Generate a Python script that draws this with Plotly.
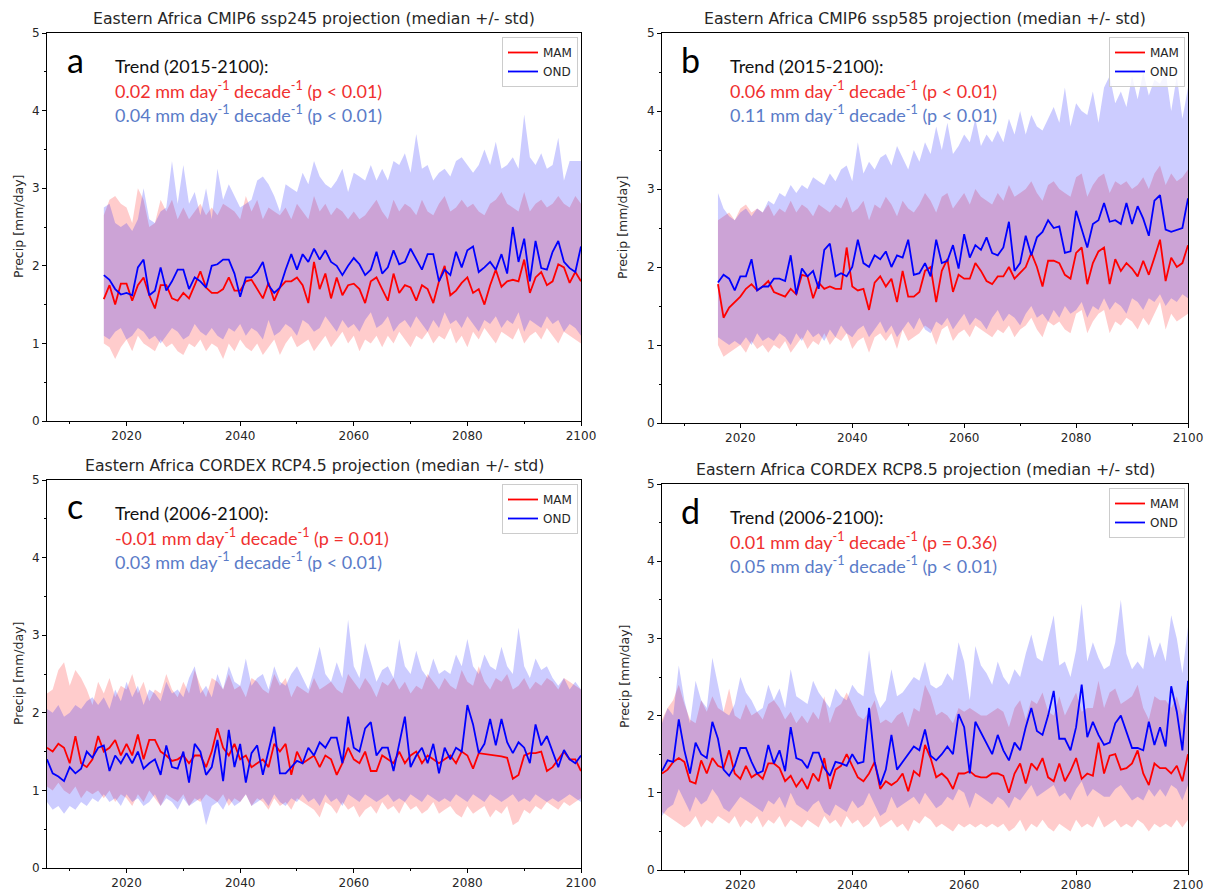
import plotly.graph_objects as go

# ---------------- data ----------------
YEARS_CMIP6 = list(range(2016, 2101))
YEARS_CORDEX = list(range(2006, 2101))

# Panel a: CMIP6 ssp245
A_MAM_MED = [1.57, 1.75, 1.50, 1.77, 1.77, 1.55, 1.75, 1.85, 1.62, 1.45,
             1.75, 1.75, 1.58, 1.55, 1.65, 1.58, 1.75, 1.93, 1.72, 1.65,
             1.65, 1.70, 1.85, 1.68, 1.68, 1.80, 1.82, 1.70, 1.58, 1.78,
             1.55, 1.72, 1.80, 1.80, 1.85, 1.75, 1.52, 2.05, 1.70, 1.90,
             1.58, 1.85, 1.62, 1.75, 1.77, 1.70, 1.52, 1.80, 1.85, 1.70,
             1.55, 1.90, 1.65, 1.75, 1.72, 1.55, 1.75, 1.70, 1.52, 1.80,
             2.00, 1.62, 1.68, 1.78, 1.85, 1.65, 1.70, 1.50, 1.75, 1.95,
             1.73, 1.80, 1.82, 1.80, 2.08, 1.65, 1.85, 1.92, 1.75, 1.80,
             2.02, 1.98, 1.78, 1.92, 1.80]
A_MAM_LO = [1.00, 0.95, 0.80, 0.95, 1.05, 0.90, 1.10, 1.00, 0.95, 0.90,
            1.05, 0.95, 1.00, 0.90, 0.85, 1.00, 0.95, 1.05, 0.90, 1.00,
            0.95, 0.80, 1.00, 0.90, 1.05, 0.95, 0.90, 1.00, 0.85, 0.95,
            1.05, 0.85, 1.00, 1.10, 0.95, 1.00, 1.05, 0.90, 1.00, 1.10,
            0.95, 1.05, 1.15, 1.00, 1.10, 0.90, 1.05, 1.00, 1.10, 0.95,
            1.10, 1.00, 1.15, 1.05, 0.95, 1.10, 1.05, 1.15, 1.00, 1.10,
            1.05, 1.20, 1.00, 1.10, 0.95, 1.15, 1.05, 1.20, 1.10, 1.00,
            1.15, 1.10, 1.05, 1.20, 1.00, 1.10, 1.15, 1.05, 1.20, 1.10,
            1.00, 1.15, 1.10, 1.05, 1.00]
A_MAM_HI = [2.65, 2.85, 2.90, 2.80, 2.75, 2.55, 3.00, 2.85, 2.50, 2.55,
            2.85, 2.70, 2.85, 2.60, 2.75, 2.60, 2.70, 2.80, 2.65, 2.75,
            2.65, 2.80, 2.75, 2.70, 2.60, 2.90, 2.70, 2.85, 2.60, 2.75,
            2.70, 2.65, 2.75, 2.60, 2.80, 2.70, 2.60, 2.90, 2.70, 2.80,
            2.65, 2.75, 2.70, 2.60, 2.70, 2.60, 2.65, 2.75, 2.85, 2.70,
            2.60, 2.85, 2.70, 2.80, 2.75, 2.65, 2.85, 2.70, 2.65, 2.80,
            2.90, 2.70, 2.75, 2.85, 2.75, 2.80, 2.70, 2.65, 2.80, 2.85,
            2.95, 2.80, 2.75, 2.70, 2.95, 2.70, 2.80, 2.85, 2.75, 2.80,
            2.90, 2.80, 2.75, 2.90, 2.80]
A_OND_MED = [1.88, 1.82, 1.70, 1.63, 1.65, 1.62, 1.98, 2.08, 1.62, 1.68,
             1.98, 1.68, 1.80, 1.95, 1.95, 1.70, 1.85, 1.80, 1.72, 2.00,
             2.02, 2.08, 2.08, 1.90, 1.60, 1.85, 1.85, 1.92, 2.05, 1.75,
             1.65, 1.72, 1.95, 2.15, 1.95, 2.15, 2.05, 2.22, 2.08, 2.20,
             2.05, 2.00, 1.88, 2.00, 2.10, 2.02, 1.88, 1.95, 2.18, 1.90,
             1.98, 2.20, 2.02, 2.05, 2.22, 2.08, 1.95, 2.15, 2.15, 1.80,
             1.95, 1.88, 2.18, 1.98, 2.20, 2.25, 1.92, 1.98, 2.05, 1.95,
             2.15, 1.90, 2.50, 2.05, 2.35, 1.80, 2.32, 1.97, 1.95, 2.18,
             2.32, 2.05, 1.97, 1.92, 2.25]
A_OND_LO = [1.10, 1.05, 1.15, 1.20, 1.05, 1.10, 1.20, 1.15, 1.05, 1.10,
            1.00, 1.10, 1.20, 1.15, 1.05, 1.10, 1.25, 1.15, 1.10, 1.20,
            1.10, 1.05, 1.20, 1.15, 1.25, 1.10, 1.20, 1.15, 1.05, 1.30,
            1.10, 1.15, 1.25, 1.20, 1.10, 1.30, 1.25, 1.15, 1.20, 1.35,
            1.25, 1.15, 1.30, 1.20, 1.25, 1.15, 1.30, 1.40, 1.20, 1.25,
            1.35, 1.15, 1.25, 1.30, 1.20, 1.35, 1.25, 1.15, 1.30, 1.20,
            1.40, 1.25, 1.30, 1.20, 1.35, 1.25, 1.15, 1.30, 1.25, 1.35,
            1.20, 1.30, 1.25, 1.40, 1.15, 1.30, 1.25, 1.20, 1.35, 1.25,
            1.30, 1.15, 1.25, 1.20, 1.10]
A_OND_HI = [2.75, 2.80, 2.55, 2.50, 2.55, 2.45, 2.60, 3.00, 2.60, 2.55,
            2.70, 2.75, 3.35, 2.80, 3.30, 2.80, 2.95, 2.65, 3.00, 2.60,
            3.25, 2.85, 3.05, 2.90, 2.75, 2.80, 2.85, 3.10, 3.15, 3.05,
            2.90, 2.70, 3.05, 3.00, 2.95, 3.20, 3.05, 3.35, 3.15, 3.05,
            3.00, 3.10, 3.25, 2.95, 3.20, 3.15, 3.10, 3.30, 3.10, 3.25,
            3.10, 3.35, 3.30, 3.45, 3.20, 3.70, 3.25, 3.30, 3.10, 3.20,
            3.25, 3.15, 3.35, 3.40, 3.30, 3.20, 3.30, 3.50, 3.30, 3.60,
            3.25, 3.30, 3.40, 3.25, 3.95, 3.40, 3.30, 3.45, 3.25, 3.30,
            3.65, 3.10, 3.35, 3.35, 3.35]

# Panel b: CMIP6 ssp585
B_MAM_MED = [1.78, 1.35, 1.48, 1.55, 1.62, 1.72, 1.78, 1.70, 1.75, 1.82,
             1.68, 1.65, 1.62, 1.72, 1.65, 1.90, 1.88, 1.60, 1.80, 1.72,
             1.75, 1.72, 1.72, 2.25, 1.75, 1.70, 1.72, 1.45, 1.80, 1.88,
             1.75, 1.85, 1.55, 1.95, 1.62, 1.62, 1.68, 1.95, 2.00, 1.55,
             1.95, 2.10, 1.68, 1.90, 1.85, 1.85, 2.05, 1.95, 1.82, 1.78,
             1.88, 1.88, 2.00, 1.85, 1.92, 2.00, 2.18, 2.00, 1.75, 2.08,
             2.08, 2.05, 1.90, 1.85, 2.18, 2.25, 1.78, 2.05, 2.20, 2.25,
             1.78, 2.10, 1.95, 2.05, 1.98, 1.88, 2.08, 1.90, 2.12, 2.35,
             1.82, 2.12, 2.00, 2.05, 2.28]
B_MAM_LO = [1.00, 0.85, 0.90, 0.95, 1.00, 0.90, 1.05, 0.95, 1.00, 0.90,
            1.00, 0.95, 1.05, 0.90, 1.00, 1.10, 0.95, 1.05, 1.00, 1.15,
            1.00, 1.10, 1.05, 1.15, 0.95, 1.05, 1.10, 0.90, 1.10, 1.15,
            1.05, 1.15, 0.95, 1.20, 1.05, 1.10, 1.15, 1.25, 1.20, 1.00,
            1.20, 1.25, 1.05, 1.15, 1.20, 1.10, 1.25, 1.20, 1.15, 1.10,
            1.20, 1.15, 1.25, 1.10, 1.20, 1.25, 1.35, 1.20, 1.10, 1.30,
            1.25, 1.30, 1.20, 1.15, 1.40, 1.45, 1.15, 1.30, 1.40, 1.45,
            1.15, 1.30, 1.25, 1.35, 1.30, 1.20, 1.35, 1.25, 1.40, 1.55,
            1.20, 1.40, 1.30, 1.35, 1.40]
B_MAM_HI = [2.60, 2.65, 2.70, 2.60, 2.75, 2.80, 2.70, 2.75, 2.70, 2.80,
            2.65, 2.75, 2.70, 2.85, 2.70, 2.80, 2.75, 2.65, 2.80, 2.75,
            2.70, 2.80, 2.75, 2.90, 2.70, 2.75, 2.85, 2.60, 2.80, 2.75,
            2.90, 2.80, 2.65, 2.85, 2.75, 2.70, 2.80, 2.95, 2.85, 2.70,
            2.90, 2.95, 2.75, 2.85, 2.95, 2.80, 3.00, 2.90, 2.85, 2.80,
            2.95, 2.85, 3.05, 2.90, 2.95, 3.00, 3.10, 2.95, 2.85, 3.05,
            3.10, 3.00, 2.95, 2.90, 3.15, 3.20, 2.90, 3.05, 3.15, 3.20,
            2.95, 3.10, 3.05, 3.10, 3.00, 3.05, 3.15, 3.00, 3.20, 3.30,
            3.05, 3.20, 3.10, 3.15, 3.25]
B_OND_MED = [1.80, 1.90, 1.85, 1.70, 1.88, 1.88, 2.10, 1.70, 1.75, 1.75,
             1.85, 1.85, 1.82, 2.15, 1.65, 1.98, 1.88, 1.95, 1.72, 2.22,
             2.30, 1.88, 1.92, 1.88, 2.00, 2.35, 2.05, 2.00, 2.15, 2.10,
             2.20, 2.00, 2.15, 2.12, 2.35, 1.90, 1.92, 2.05, 1.88, 2.35,
             2.05, 2.08, 2.28, 1.98, 2.42, 2.12, 2.28, 2.22, 2.38, 2.18,
             2.15, 2.25, 2.58, 1.95, 2.05, 2.40, 2.15, 2.38, 2.45, 2.60,
             2.50, 2.52, 2.18, 2.20, 2.72, 2.50, 2.25, 2.55, 2.60, 2.82,
             2.58, 2.60, 2.55, 2.82, 2.55, 2.78, 2.62, 2.40, 2.85, 2.92,
             2.48, 2.45, 2.48, 2.50, 2.88]
B_OND_LO = [1.10, 1.05, 1.00, 1.05, 1.00, 1.10, 1.00, 1.15, 1.05, 1.10,
            1.05, 1.15, 1.10, 1.00, 1.15, 1.05, 1.20, 1.10, 1.15, 1.05,
            1.20, 1.10, 1.25, 1.15, 1.10, 1.20, 1.25, 1.10, 1.20, 1.30,
            1.15, 1.25, 1.10, 1.20, 1.30, 1.20, 1.35, 1.20, 1.15, 1.30,
            1.25, 1.35, 1.20, 1.30, 1.40, 1.25, 1.35, 1.30, 1.20, 1.35,
            1.45, 1.30, 1.40, 1.35, 1.25, 1.40, 1.50, 1.35, 1.40, 1.30,
            1.45, 1.35, 1.50, 1.40, 1.45, 1.55, 1.35, 1.50, 1.45, 1.60,
            1.45, 1.55, 1.50, 1.40, 1.60, 1.55, 1.45, 1.60, 1.55, 1.65,
            1.50, 1.60, 1.55, 1.65, 1.60]
B_OND_HI = [2.95, 2.75, 2.65, 2.60, 2.70, 2.75, 2.65, 2.75, 2.70, 2.85,
            2.80, 2.95, 2.90, 3.05, 2.95, 3.05, 3.00, 3.15, 3.10, 3.05,
            3.20, 3.10, 3.25, 3.30, 3.10, 3.60, 3.20, 3.35, 3.25, 3.40,
            3.45, 3.30, 3.55, 3.40, 3.25, 3.50, 3.35, 3.60, 3.45, 3.80,
            3.50, 3.85, 3.45, 3.55, 3.70, 3.60, 3.90, 3.55, 3.70, 3.60,
            3.75, 3.60, 3.90, 3.70, 4.00, 3.70, 3.95, 3.80, 3.75, 3.90,
            4.05, 3.85, 4.30, 3.80, 4.10, 4.00, 3.95, 4.25, 3.85, 4.30,
            4.45, 4.10, 4.25, 4.05, 4.45, 4.15, 4.50, 4.20, 4.40, 4.35,
            4.50, 4.00, 4.45, 3.90, 4.30]

# Panel c: CORDEX RCP4.5
C_MAM_MED = [1.55, 1.50, 1.60, 1.55, 1.35, 1.70, 1.35, 1.30, 1.40, 1.70,
             1.50, 1.55, 1.65, 1.45, 1.60, 1.45, 1.72, 1.40, 1.65, 1.65,
             1.50, 1.45, 1.38, 1.40, 1.45, 1.35, 1.45, 1.45, 1.30, 1.50,
             1.80, 1.55, 1.45, 1.60, 1.40, 1.45, 1.30, 1.35, 1.40, 1.30,
             1.60, 1.50, 1.60, 1.20, 1.50, 1.35, 1.40, 1.45, 1.30, 1.45,
             1.40, 1.20, 1.35, 1.55, 1.40, 1.35, 1.50, 1.25, 1.25, 1.45,
             1.40, 1.35, 1.50, 1.35, 1.45, 1.50, 1.35, 1.45, 1.40, 1.35,
             1.40, 1.45, 1.35, 1.50, 1.45, 1.28, 1.48, 1.47, 1.46, 1.45,
             1.44, 1.42, 1.15, 1.20, 1.45, 1.48, 1.48, 1.50, 1.25, 1.30,
             1.40, 1.50, 1.40, 1.40, 1.25]
C_MAM_LO = [1.05, 1.00, 1.10, 1.00, 0.95, 1.05, 0.90, 1.00, 0.95, 1.00,
            0.90, 1.00, 0.85, 0.95, 0.90, 0.80, 0.95, 0.85, 1.00, 0.90,
            0.80, 0.95, 0.90, 0.85, 0.95, 0.80, 0.90, 0.85, 0.95, 0.90,
            0.85, 0.95, 0.80, 0.90, 0.85, 0.95, 0.80, 0.90, 0.85, 0.75,
            0.90, 0.80, 0.85, 0.75, 0.90, 0.85, 0.80, 0.75, 0.65, 0.85,
            0.80, 0.70, 0.85, 0.75, 0.80, 0.65, 0.75, 0.80, 0.70, 0.85,
            0.75, 0.80, 0.70, 0.85, 0.75, 0.80, 0.70, 0.75, 0.85, 0.70,
            0.75, 0.80, 0.70, 0.65, 0.80, 0.70, 0.75, 0.80, 0.65, 0.75,
            0.70, 0.80, 0.55, 0.60, 0.75, 0.70, 0.80, 0.75, 0.85, 0.80,
            0.75, 0.85, 0.80, 0.85, 0.90]
C_MAM_HI = [2.25, 2.30, 2.55, 2.65, 2.35, 2.55, 2.45, 2.30, 2.10, 2.40,
            2.25, 2.45, 2.20, 2.35, 2.30, 2.50, 2.25, 2.40, 2.15, 2.30,
            2.25, 2.50, 2.30, 2.20, 2.40, 2.25, 2.55, 2.35, 2.20, 2.45,
            2.40, 2.30, 2.50, 2.30, 2.35, 2.20, 2.45, 2.40, 2.30, 2.25,
            2.50, 2.35, 2.45, 2.20, 2.35, 2.30, 2.25, 2.45, 2.30, 2.35,
            2.40, 2.30, 2.25, 2.50, 2.40, 2.30, 2.45, 2.35, 2.20, 2.40,
            2.35, 2.45, 2.30, 2.40, 2.25, 2.35, 2.30, 2.50, 2.40, 2.30,
            2.45, 2.35, 2.30, 2.55, 2.40, 2.35, 2.60, 2.40, 2.30, 2.45,
            2.40, 2.50, 2.30, 2.35, 2.45, 2.30, 2.40, 2.35, 2.45, 2.40,
            2.30, 2.45, 2.40, 2.35, 2.30]
C_OND_MED = [1.40, 1.22, 1.18, 1.12, 1.30, 1.22, 1.28, 1.50, 1.42, 1.55,
             1.58, 1.25, 1.45, 1.35, 1.48, 1.35, 1.50, 1.28, 1.35, 1.40,
             1.20, 1.58, 1.30, 1.28, 1.50, 1.10, 1.60, 1.50, 1.20, 1.30,
             1.65, 1.12, 1.78, 1.30, 1.60, 1.10, 1.48, 1.58, 1.20, 1.50,
             1.82, 1.22, 1.22, 1.30, 1.38, 1.35, 1.55, 1.45, 1.62, 1.55,
             1.68, 1.68, 1.35, 1.95, 1.55, 1.50, 1.80, 1.88, 1.45, 1.55,
             1.55, 1.25, 1.58, 1.95, 1.30, 1.45, 1.55, 1.35, 1.60, 1.22,
             1.55, 1.40, 1.55, 1.50, 2.10, 1.85, 1.48, 1.60, 1.92, 1.58,
             1.92, 1.62, 1.48, 1.62, 1.55, 1.35, 1.85, 1.58, 1.70, 1.50,
             1.30, 1.52, 1.40, 1.35, 1.45]
C_OND_LO = [0.85, 0.75, 0.80, 0.70, 0.80, 0.75, 0.85, 0.80, 0.90, 0.85,
            0.95, 0.85, 0.90, 0.80, 0.95, 0.85, 0.90, 0.80, 0.85, 0.95,
            0.80, 0.90, 0.85, 0.75, 0.90, 0.80, 0.85, 0.90, 0.55, 0.80,
            0.85, 0.75, 0.90, 0.80, 0.85, 0.95, 0.80, 0.85, 0.90, 0.80,
            0.95, 0.85, 0.80, 0.90, 0.85, 0.95, 0.85, 0.90, 0.80, 0.95,
            0.85, 0.90, 0.80, 0.95, 0.90, 0.85, 0.95, 0.90, 0.85, 0.90,
            0.95, 0.85, 0.90, 0.85, 0.95, 0.90, 0.85, 0.95, 0.90, 0.85,
            0.90, 0.85, 0.95, 0.90, 0.85, 0.95, 0.90, 0.85, 0.95, 0.90,
            0.85, 0.90, 0.95, 0.85, 0.90, 0.85, 0.95, 0.90, 0.85, 0.90,
            0.85, 0.90, 0.95, 0.90, 0.85]
C_OND_HI = [2.05, 2.00, 2.10, 1.95, 2.00, 2.10, 2.05, 2.15, 2.20, 2.10,
            2.20, 2.05, 2.30, 2.15, 2.40, 2.20, 2.35, 2.10, 2.30, 2.25,
            2.15, 2.40, 2.25, 2.30, 2.20, 2.45, 2.60, 2.25, 2.35, 2.20,
            2.50, 2.30, 2.60, 2.40, 2.35, 2.70, 2.35, 2.45, 2.50, 2.30,
            2.60, 2.40, 2.35, 2.50, 2.60, 2.45, 2.30, 2.55, 2.85, 2.50,
            2.40, 2.65, 2.45, 3.20, 2.60, 2.45, 2.90, 2.65, 2.40, 2.55,
            2.60, 2.45, 2.95, 2.60, 2.50, 2.80, 2.55, 2.45, 2.70, 2.50,
            2.55, 2.50, 2.75, 2.60, 2.95, 2.60, 2.50, 2.75, 2.60, 2.55,
            2.85, 2.60, 2.50, 3.10, 2.60, 2.45, 2.70, 2.55, 2.60, 2.45,
            2.35, 2.45, 2.30, 2.40, 2.30]

# Panel d: CORDEX RCP8.5
D_MAM_MED = [1.25, 1.30, 1.40, 1.45, 1.40, 1.15, 1.12, 1.42, 1.25, 1.45,
             1.35, 1.32, 1.55, 1.25, 1.18, 1.35, 1.20, 1.25, 1.18, 1.38,
             1.38, 1.32, 1.15, 1.22, 1.08, 1.18, 1.05, 1.25, 1.15, 1.45,
             1.05, 1.30, 1.35, 1.50, 1.35, 1.20, 1.15, 1.25, 1.40, 1.05,
             1.15, 1.10, 1.15, 1.25, 1.02, 1.28, 1.22, 1.62, 1.45, 1.20,
             1.25, 1.18, 1.05, 1.25, 1.25, 1.28, 1.22, 1.20, 1.20, 1.25,
             1.25, 1.22, 1.00, 1.25, 1.38, 1.12, 1.38, 1.30, 1.45, 1.20,
             1.15, 1.38, 1.15, 1.28, 1.45, 1.18, 1.25, 1.22, 1.65, 1.25,
             1.48, 1.50, 1.30, 1.32, 1.38, 1.55, 1.25, 1.10, 1.38, 1.32,
             1.32, 1.25, 1.35, 1.15, 1.50]
D_MAM_LO = [0.75, 0.70, 0.65, 0.60, 0.55, 0.60, 0.70, 0.55, 0.65, 0.60,
            0.70, 0.65, 0.60, 0.70, 0.55, 0.65, 0.60, 0.70, 0.55, 0.65,
            0.60, 0.70, 0.55, 0.65, 0.60, 0.55, 0.65, 0.60, 0.55, 0.70,
            0.60, 0.65, 0.55, 0.70, 0.60, 0.65, 0.55, 0.60, 0.70, 0.55,
            0.60, 0.65, 0.55, 0.60, 0.50, 0.65, 0.60, 0.70, 0.65, 0.55,
            0.60, 0.55, 0.50, 0.60, 0.55, 0.60, 0.55, 0.60, 0.55, 0.60,
            0.55, 0.60, 0.50, 0.55, 0.65, 0.50, 0.60, 0.55, 0.65, 0.55,
            0.50, 0.60, 0.55, 0.50, 0.65, 0.55, 0.60, 0.55, 0.70, 0.55,
            0.60, 0.65, 0.55, 0.60, 0.55, 0.65, 0.60, 0.50, 0.60, 0.55,
            0.60, 0.55, 0.65, 0.55, 0.65]
D_MAM_HI = [1.95, 2.10, 2.20, 2.40, 2.15, 1.95, 1.90, 2.20, 2.05, 2.25,
            2.10, 2.05, 2.35, 2.00, 1.95, 2.15, 2.00, 2.05, 1.95, 2.15,
            2.20, 2.10, 1.95, 2.05, 1.90, 2.00, 1.90, 2.05, 1.95, 2.25,
            1.90, 2.10, 2.15, 2.30, 2.15, 2.00, 1.95, 2.05, 2.20, 1.90,
            1.95, 1.90, 2.00, 2.05, 1.85, 2.10, 2.05, 2.40, 2.25, 2.00,
            2.05, 2.00, 1.90, 2.10, 2.05, 2.10, 2.05, 2.00, 2.00, 2.05,
            2.10, 2.05, 1.85, 2.10, 2.20, 1.95, 2.20, 2.15, 2.30, 2.05,
            2.00, 2.25, 2.00, 2.15, 2.30, 2.05, 2.10, 2.10, 2.45, 2.10,
            2.30, 2.35, 2.15, 2.20, 2.25, 2.40, 2.10, 1.95, 2.25, 2.20,
            2.20, 2.10, 2.25, 2.00, 2.35]
D_OND_MED = [1.28, 1.42, 1.40, 1.95, 1.55, 1.25, 1.65, 1.50, 1.45, 1.92,
             1.70, 1.30, 1.22, 1.35, 1.58, 1.58, 1.40, 1.25, 1.28, 1.62,
             1.38, 1.55, 1.28, 1.85, 1.45, 1.42, 1.32, 1.52, 1.52, 1.32,
             1.22, 1.40, 1.38, 1.35, 1.50, 1.38, 1.40, 2.10, 1.40, 1.10,
             1.30, 1.75, 1.30, 1.40, 1.50, 1.60, 1.55, 1.82, 1.48, 1.42,
             1.50, 1.60, 1.50, 2.02, 1.85, 1.25, 1.92, 1.78, 1.65, 1.50,
             1.75, 1.55, 1.42, 1.65, 1.55, 1.85, 2.10, 1.80, 1.75, 2.00,
             2.32, 1.70, 1.70, 1.55, 1.85, 2.40, 1.72, 1.92, 1.75, 1.62,
             1.65, 1.90, 2.00, 1.80, 1.58, 1.58, 1.55, 1.92, 1.62, 1.85,
             1.60, 2.38, 2.05, 1.55, 2.45]
D_OND_LO = [0.70, 0.80, 0.85, 1.05, 0.90, 0.75, 0.95, 0.85, 0.90, 1.05,
            0.95, 0.80, 0.75, 0.85, 0.95, 0.90, 0.85, 0.80, 0.75, 0.90,
            0.85, 0.95, 0.80, 1.00, 0.85, 0.80, 0.75, 0.85, 0.90, 0.75,
            0.70, 0.85, 0.80, 0.75, 0.90, 0.80, 0.85, 1.00, 0.85, 0.70,
            0.75, 0.95, 0.80, 0.85, 0.90, 0.95, 0.85, 1.00, 0.90, 0.80,
            0.85, 0.95, 0.90, 1.05, 1.00, 0.80, 1.00, 0.95, 0.90, 0.85,
            0.95, 0.90, 0.80, 0.95, 0.90, 1.00, 1.10, 0.95, 1.00, 1.05,
            1.10, 0.95, 1.00, 0.90, 1.05, 1.15, 0.95, 1.05, 1.00, 0.95,
            0.95, 1.05, 1.10, 1.00, 0.90, 0.95, 0.90, 1.05, 0.95, 1.05,
            0.95, 1.10, 1.05, 0.90, 1.10]
D_OND_HI = [1.90, 2.10, 2.00, 2.65, 2.20, 1.90, 2.45, 2.20, 2.10, 2.75,
            2.40, 2.05, 2.00, 2.15, 2.50, 2.30, 2.20, 2.05, 2.10, 2.40,
            2.20, 2.35, 2.10, 2.60, 2.25, 2.20, 2.15, 2.45, 2.30, 2.20,
            2.10, 2.35, 2.25, 2.20, 2.40, 2.30, 2.25, 2.85, 2.30, 2.10,
            2.20, 2.60, 2.25, 2.30, 2.40, 2.50, 2.45, 2.70, 2.40, 2.35,
            2.40, 2.55, 2.45, 2.95, 2.70, 2.20, 2.90, 2.65, 2.55, 2.40,
            2.70, 2.50, 2.40, 2.60, 2.50, 2.80, 3.05, 2.75, 2.70, 3.00,
            3.30, 2.65, 2.70, 2.50, 2.85, 3.45, 2.70, 2.95, 2.75, 2.60,
            2.65, 2.95, 3.50, 2.80, 2.60, 2.70, 2.60, 3.05, 2.75, 2.95,
            2.70, 3.30, 3.00, 2.55, 3.15]

X_TICKS = [2020, 2040, 2060, 2080, 2100]
X_MINOR = [2010, 2030, 2050, 2070, 2090]
Y_TICKS = [0, 1, 2, 3, 4, 5]
Y_MINOR = [0.5, 1.5, 2.5, 3.5, 4.5]
Y_LABEL = "Precip [mm/day]"

TITLES = ["Eastern Africa CMIP6 ssp245 projection (median +/- std)",
          "Eastern Africa CMIP6 ssp585 projection (median +/- std)",
          "Eastern Africa CORDEX RCP4.5 projection (median +/- std)",
          "Eastern Africa CORDEX RCP8.5 projection (median +/- std)"]
LETTERS = ["a", "b", "c", "d"]
TREND_HEAD = ["Trend (2015-2100):", "Trend (2015-2100):",
              "Trend (2006-2100):", "Trend (2006-2100):"]
TREND_MAM = ["0.02 mm day<sup>-1</sup> decade<sup>-1</sup> (p &lt; 0.01)",
             "0.06 mm day<sup>-1</sup> decade<sup>-1</sup> (p &lt; 0.01)",
             "-0.01 mm day<sup>-1</sup> decade<sup>-1</sup> (p = 0.01)",
             "0.01 mm day<sup>-1</sup> decade<sup>-1</sup> (p = 0.36)"]
TREND_OND = ["0.04 mm day<sup>-1</sup> decade<sup>-1</sup> (p &lt; 0.01)",
             "0.11 mm day<sup>-1</sup> decade<sup>-1</sup> (p &lt; 0.01)",
             "0.03 mm day<sup>-1</sup> decade<sup>-1</sup> (p &lt; 0.01)",
             "0.05 mm day<sup>-1</sup> decade<sup>-1</sup> (p &lt; 0.01)"]

PANEL_DATA = [
    (YEARS_CMIP6, (A_MAM_LO, A_MAM_MED, A_MAM_HI), (A_OND_LO, A_OND_MED, A_OND_HI)),
    (YEARS_CMIP6, (B_MAM_LO, B_MAM_MED, B_MAM_HI), (B_OND_LO, B_OND_MED, B_OND_HI)),
    (YEARS_CORDEX, (C_MAM_LO, C_MAM_MED, C_MAM_HI), (C_OND_LO, C_OND_MED, C_OND_HI)),
    (YEARS_CORDEX, (D_MAM_LO, D_MAM_MED, D_MAM_HI), (D_OND_LO, D_OND_MED, D_OND_HI)),
]
for yrs, mam, ond in PANEL_DATA:
    for arr in mam + ond:
        if len(arr) != len(yrs):
            raise ValueError(f"length mismatch {len(arr)} vs {len(yrs)}")

# ---------------- layout (pixel boxes, in page coordinates) ----------------
PAGE_W, PAGE_H = 1213, 894
OFF = 8  # default page margin around the plot div
W, H = PAGE_W - OFF, PAGE_H - OFF
BOXES = [(47, 581, 33, 421), (662, 1188, 33, 423),
         (47, 581, 480, 868), (662, 1188, 484, 870)]  # left, right, top, bottom
YLABEL_GAP = [29, 40, 29, 38]  # px from the left spine to the y-label centre


def fx(px):
    return (px - OFF) / W


def fy(py):
    return 1 - (py - OFF) / H


LINE_COL = {"MAM": "#ff0000", "OND": "#0000ff"}
FILL_COL = {"MAM": "rgba(255,0,0,0.2)", "OND": "rgba(0,0,255,0.2)"}
TXT_COL = {"MAM": "#f0302f", "OND": "#5a7bc8"}

TICK_FONT = dict(family="DejaVu Sans", size=12, color="#262626")
TEXT_FONT = "Lato"

fig = go.Figure()
layout = dict(width=W, height=H, margin=dict(l=0, r=0, t=0, b=0, autoexpand=False),
              paper_bgcolor="white", plot_bgcolor="white", annotations=[])

for i, ((yrs, mam, ond), box) in enumerate(zip(PANEL_DATA, BOXES)):
    n = i + 1
    xa = "x" if n == 1 else f"x{n}"
    ya = "y" if n == 1 else f"y{n}"
    lg = "legend" if n == 1 else f"legend{n}"
    l, r, t, b = box

    for name, (lo, med, hi) in (("MAM", mam), ("OND", ond)):
        fig.add_trace(go.Scatter(x=yrs, y=lo, mode="lines", line=dict(width=0),
                                 showlegend=False, hoverinfo="skip",
                                 xaxis=xa, yaxis=ya))
        fig.add_trace(go.Scatter(x=yrs, y=hi, mode="lines", line=dict(width=0),
                                 fill="tonexty", fillcolor=FILL_COL[name],
                                 showlegend=False, hoverinfo="skip",
                                 xaxis=xa, yaxis=ya))
    for name, (lo, med, hi) in (("MAM", mam), ("OND", ond)):
        fig.add_trace(go.Scatter(x=yrs, y=med, mode="lines", name=name,
                                 line=dict(color=LINE_COL[name], width=1.8),
                                 xaxis=xa, yaxis=ya, legend=lg))

    axis_common = dict(showline=True, linecolor="black", linewidth=1, mirror=True,
                       showgrid=False, zeroline=False, ticks="outside", automargin=False,
                       ticklen=4, tickwidth=1, tickcolor="black", tickfont=TICK_FONT)
    layout["xaxis" if n == 1 else f"xaxis{n}"] = dict(
        axis_common, domain=[fx(l), fx(r)], anchor=ya, range=[2006, 2100],
        tickvals=X_TICKS,
        minor=dict(tickvals=X_MINOR, ticks="outside", ticklen=2, tickcolor="black"))
    layout["yaxis" if n == 1 else f"yaxis{n}"] = dict(
        axis_common, domain=[fy(b), fy(t)], anchor=xa, range=[0, 5],
        tickvals=Y_TICKS,
        minor=dict(tickvals=Y_MINOR, ticks="outside", ticklen=2, tickcolor="black"))
    layout[lg] = dict(x=fx(r - 3), y=fy(t + 4), xanchor="right", yanchor="top",
                      bgcolor="rgba(255,255,255,0.8)", bordercolor="#cccccc",
                      borderwidth=1, font=dict(family="DejaVu Sans", size=12, color="#262626"),
                      traceorder="normal", tracegroupgap=0, itemwidth=30)

    xd = f"{xa} domain"
    yd = f"{ya} domain"
    ph = b - t
    pw = r - l
    anns = layout["annotations"]
    anns.append(dict(text=Y_LABEL, xref=xd, yref=yd, x=-YLABEL_GAP[i] / pw, y=0.5,
                     xanchor="center", yanchor="middle", textangle=-90, showarrow=False,
                     font=dict(family="DejaVu Sans", size=12.5, color="#262626")))
    anns.append(dict(text=TITLES[i], xref=xd, yref=yd, x=0.5, y=1, yshift=3,
                     xanchor="center", yanchor="bottom", showarrow=False,
                     font=dict(family="DejaVu Sans", size=15.7, color="#262626")))
    anns.append(dict(text=LETTERS[i], xref=xd, yref=yd, x=28 / pw, y=1 - 26 / ph,
                     xanchor="center", yanchor="middle", showarrow=False,
                     font=dict(family=TEXT_FONT, size=34, color="black")))
    tx = 66 / pw
    anns.append(dict(text=TREND_HEAD[i], xref=xd, yref=yd, x=tx, y=1 - 33 / ph,
                     xanchor="left", yanchor="middle", showarrow=False,
                     font=dict(family=TEXT_FONT, size=18, color="#111111")))
    anns.append(dict(text=TREND_MAM[i], xref=xd, yref=yd, x=tx, y=1 - 57 / ph,
                     xanchor="left", yanchor="middle", showarrow=False,
                     font=dict(family=TEXT_FONT, size=18, color=TXT_COL["MAM"])))
    anns.append(dict(text=TREND_OND[i], xref=xd, yref=yd, x=tx, y=1 - 81 / ph,
                     xanchor="left", yanchor="middle", showarrow=False,
                     font=dict(family=TEXT_FONT, size=18, color=TXT_COL["OND"])))

fig.update_layout(**layout)
fig.write_html("out.html")
